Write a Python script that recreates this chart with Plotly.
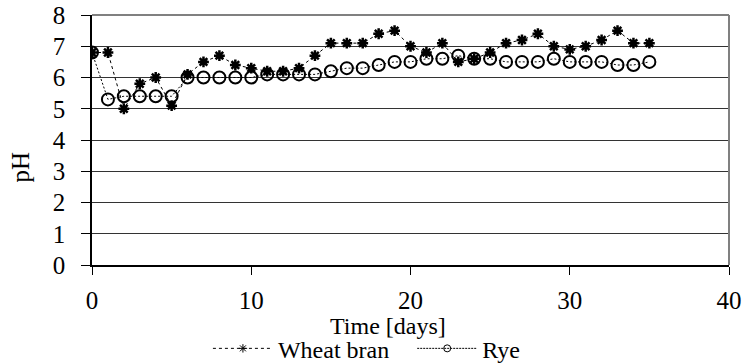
import plotly.graph_objects as go

days = list(range(0, 36))

wheat_bran = [6.8, 6.8, 5.0, 5.8, 6.0, 5.1, 6.1, 6.5, 6.7, 6.4,
              6.3, 6.2, 6.2, 6.3, 6.7, 7.1, 7.1, 7.1, 7.4, 7.5,
              7.0, 6.8, 7.1, 6.5, 6.6, 6.8, 7.1, 7.2, 7.4, 7.0,
              6.9, 7.0, 7.2, 7.5, 7.1, 7.1]

rye = [6.8, 5.3, 5.4, 5.4, 5.4, 5.4, 6.0, 6.0, 6.0, 6.0,
       6.0, 6.1, 6.1, 6.1, 6.1, 6.2, 6.3, 6.3, 6.4, 6.5,
       6.5, 6.6, 6.6, 6.7, 6.6, 6.6, 6.5, 6.5, 6.5, 6.6,
       6.5, 6.5, 6.5, 6.4, 6.4, 6.5]

x_ticks = [0, 10, 20, 30, 40]
y_ticks = [0, 1, 2, 3, 4, 5, 6, 7, 8]

FONT = "Liberation Serif, Times New Roman, serif"

fig = go.Figure()

# data series (legend drawn by the small-marker entries below)
fig.add_trace(go.Scatter(
    x=days, y=rye, mode="lines+markers", showlegend=False,
    line=dict(color="black", width=1, dash="2px,2px"),
    marker=dict(symbol="circle-open", size=12, color="black",
                line=dict(width=2, color="black")),
))
fig.add_trace(go.Scatter(
    x=days, y=wheat_bran, mode="lines+markers", showlegend=False,
    line=dict(color="black", width=1, dash="3px,3px"),
    marker=dict(symbol="asterisk-open", size=9, color="black",
                line=dict(width=2.5, color="black")),
))

# legend entries
fig.add_trace(go.Scatter(
    x=[None], y=[None], mode="lines+markers", name="Wheat bran\u00a0\u00a0\u00a0",
    line=dict(color="black", width=1, dash="3px,3px"),
    marker=dict(symbol="asterisk-open", size=7, color="black",
                line=dict(width=1, color="black")),
))
fig.add_trace(go.Scatter(
    x=[None], y=[None], mode="lines+markers", name="Rye",
    line=dict(color="black", width=1, dash="2px,1px"),
    marker=dict(symbol="circle-open", size=7, color="black",
                line=dict(width=1, color="black")),
))

fig.update_layout(
    width=745, height=363,
    margin=dict(l=92, r=16, t=15, b=98, autoexpand=False),
    paper_bgcolor="white", plot_bgcolor="white",
    font=dict(family=FONT, size=25, color="black"),
    showlegend=True,
    legend=dict(orientation="h", x=0.182, xanchor="left", y=-0.335, yanchor="middle",
                font=dict(family=FONT, size=24), itemwidth=60,
                tracegroupgap=0, bgcolor="rgba(0,0,0,0)"),
    xaxis=dict(range=[0, 40], tickvals=x_ticks, ticks="outside", ticklen=8,
               tickcolor="black", tickwidth=1, showgrid=False,
               showline=True, linecolor="black", linewidth=1.5,
               mirror=False, zeroline=False, ticklabelstandoff=4,
               tickfont=dict(family=FONT, size=25)),
    yaxis=dict(range=[0, 8], tickvals=y_ticks, ticks="outside", ticklen=9,
               tickcolor="black", tickwidth=1, showgrid=True,
               gridcolor="#333333", gridwidth=1,
               showline=True, linecolor="black", linewidth=1.5,
               zeroline=False, ticklabelstandoff=11,
               tickfont=dict(family=FONT, size=25)),
    annotations=[
        dict(text="Time [days]", xref="paper", yref="paper", x=0.465, y=-0.245,
             xanchor="center", yanchor="middle", showarrow=False,
             font=dict(family=FONT, size=24)),
        dict(text="pH", xref="paper", yref="paper", x=-0.113, y=0.39,
             xanchor="center", yanchor="middle", showarrow=False, textangle=-90,
             font=dict(family=FONT, size=25)),
    ],
    shapes=[
        dict(type="line", xref="paper", yref="paper", x0=0, x1=1, y0=1, y1=1,
             line=dict(color="#808080", width=2)),
        dict(type="line", xref="paper", yref="paper", x0=1, x1=1, y0=0, y1=1,
             line=dict(color="#808080", width=2)),
    ],
)

fig.write_html("out.html")
